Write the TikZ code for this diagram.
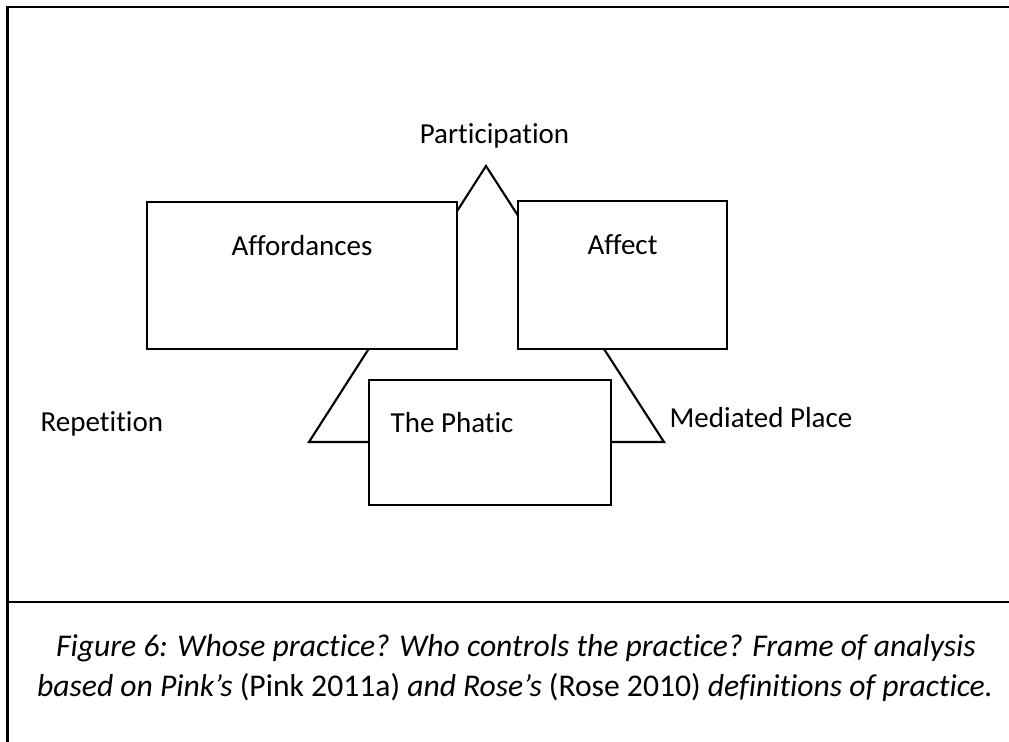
\documentclass[tikz,border=0pt]{standalone}
\usepackage{fontspec}
\setmainfont{Carlito}[Ligatures={NoCommon,NoContextual}]

\tikzstyle{box} = [line width=0.6pt, fill=white]
\tikzstyle{frame} = [line width=0.75pt]
\tikzstyle{lbl} = [inner sep=0pt, anchor=base, font=\fontsize{8.25}{10}\selectfont]
\tikzstyle{caption} = [lbl, font=\fontsize{9.0}{11}\selectfont]

\begin{document}
\begin{tikzpicture}
\useasboundingbox (0,0) rectangle (10.09,7.42);

% Outer frame and caption rule
\draw [frame] (0.075,0) -- (0.075,7.35) -- (10.09,7.35);
\draw [frame] (0.075,1.40) -- (10.09,1.40);

% Big triangle, mostly hidden behind the boxes
\draw [box] (4.86,5.76) -- (3.09,3.00) -- (6.64,3.00) -- cycle;

% Boxes
\draw [box] (1.47,3.93) rectangle (4.57,5.40);
\draw [box] (5.18,3.93) rectangle (7.27,5.41);
\draw [box] (3.69,2.37) rectangle (6.11,3.62);

% Labels
\node (part) [lbl] at (4.945,5.98) {Participation};
\node (afford) [lbl] at (3.02,4.86) {Affordances};
\node (affect) [lbl] at (6.225,4.87) {Affect};
\node (phatic) [lbl, anchor=base west] at (3.90,3.09) {The Phatic};
\node (rep) [lbl, anchor=base west] at (0.40,3.10) {Repetition};
\node (medplace) [lbl, anchor=base west] at (6.69,3.14) {Mediated Place};

% Caption
\node (cap1) [caption] at (5.16,0.85) {\itshape Figure 6: Whose practice? Who controls the practice? Frame of analysis};
\node (cap2) [caption] at (5.15,0.45) {\itshape based on Pink’s \upshape(Pink 2011a) \itshape and Rose’s \upshape(Rose 2010) \itshape definitions of practice.};

\end{tikzpicture}
\end{document}
